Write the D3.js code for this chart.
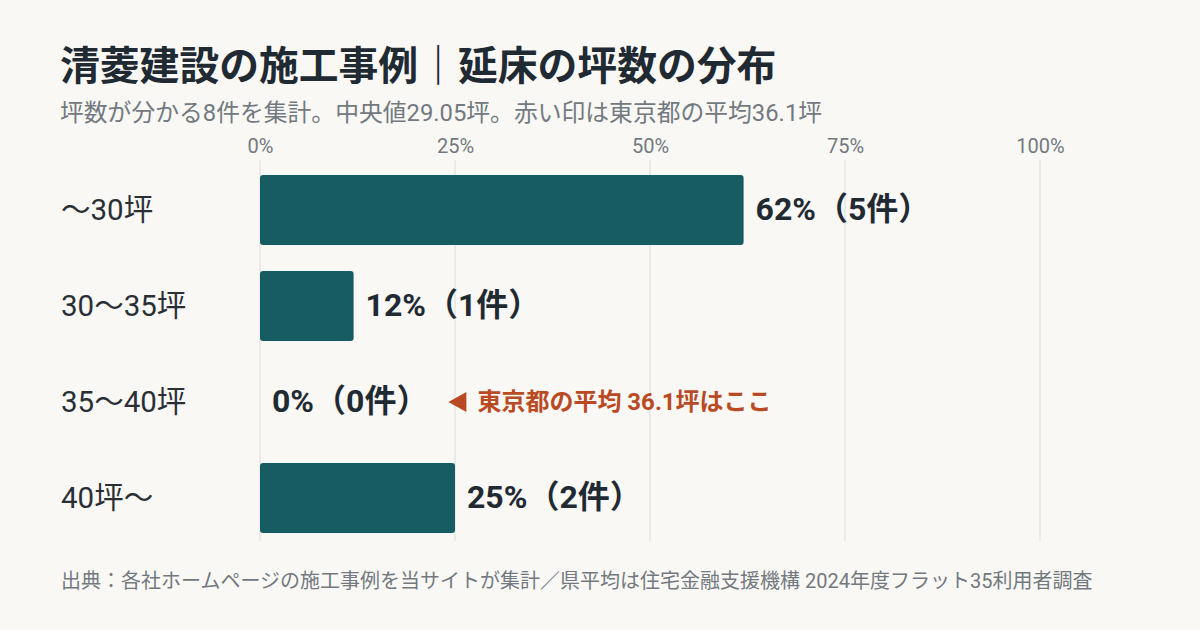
<!DOCTYPE html>
<html>
<head>
<meta charset="utf-8">
<script src="https://cdn.jsdelivr.net/npm/d3@7"></script>
<style>
  body { margin: 0; background: #f9f8f5; }
  svg { display: block; font-family: Roboto, "Noto Sans CJK JP", sans-serif; }
</style>
</head>
<body>
<svg id="chart"></svg>
<script>
const categories = ["～30坪", "30～35坪", "35～40坪", "40坪～"];
const shares = [62, 12, 0, 25];
const counts = [5, 1, 0, 2];
const ticks = [0, 25, 50, 75, 100];
const markerRow = "35～40坪";
const markerText = "東京都の平均 36.1坪はここ";

const W = 1200, H = 630;
const svg = d3.select("#chart").attr("width", W).attr("height", H);
svg.append("rect").attr("width", W).attr("height", H).attr("fill", "#f9f8f5");

svg.append("text")
  .attr("x", 60).attr("y", 80)
  .attr("font-size", 39.8).attr("font-weight", 700).attr("fill", "#1f2a33")
  .text("清菱建設の施工事例｜延床の坪数の分布");

svg.append("text")
  .attr("x", 60).attr("y", 121)
  .attr("font-size", 23.8).attr("fill", "#737980")
  .text("坪数が分かる8件を集計。中央値29.05坪。赤い印は東京都の平均36.1坪");

const x = d3.scaleLinear().domain([0, 100]).range([260, 1040]);
const y = d3.scaleBand().domain(categories).range([162, 546])
  .paddingInner(26 / 96).paddingOuter(13 / 96);

// grid
svg.append("g").selectAll("line")
  .data(ticks)
  .join("line")
  .attr("x1", d => x(d)).attr("x2", d => x(d))
  .attr("y1", 160).attr("y2", 541)
  .attr("stroke", "#dcdcd8").attr("stroke-width", 1);

// top axis
const xAxis = svg.append("g")
  .attr("transform", "translate(0,153)")
  .call(d3.axisTop(x).tickValues(ticks).tickFormat(d => d + "%").tickSize(0).tickPadding(0));
xAxis.select(".domain").remove();
xAxis.selectAll("text")
  .attr("dy", 0)
  .attr("font-size", 20).attr("fill", "#737980")
  .attr("font-family", "Roboto, 'Noto Sans CJK JP', sans-serif");

// category labels
svg.append("g").selectAll("text")
  .data(categories)
  .join("text")
  .attr("x", 61)
  .attr("y", d => y(d) + y.bandwidth() / 2)
  .attr("dy", "0.35em")
  .attr("font-size", 29.5).attr("fill", "#2a2f35")
  .text(d => d);

const rows = categories.map((c, i) => ({ cat: c, share: shares[i], count: counts[i] }));

// bars
svg.append("g").selectAll("rect")
  .data(rows.filter(d => d.share > 0))
  .join("rect")
  .attr("x", x(0))
  .attr("y", d => y(d.cat))
  .attr("width", d => x(d.share) - x(0))
  .attr("height", y.bandwidth())
  .attr("rx", 3)
  .attr("fill", "#175c63");

// value labels
const labels = svg.append("g").selectAll("text")
  .data(rows)
  .join("text")
  .attr("x", d => x(d.share) + 12)
  .attr("y", d => y(d.cat) + y.bandwidth() / 2)
  .attr("dy", "0.32em")
  .attr("font-size", 32).attr("font-weight", 700).attr("fill", "#1f2a33")
  .text(d => `${d.share}%（${d.count}件）`);

// marker annotation
const mark = labels.filter(d => d.cat === markerRow).node().getBBox();
const mx = mark.x + mark.width + 20;
const my = y(markerRow) + y.bandwidth() / 2;
svg.append("path")
  .attr("d", `M${mx},${my} L${mx + 18},${my - 10} L${mx + 18},${my + 10} Z`)
  .attr("fill", "#b94a24");
svg.append("text")
  .attr("x", mx + 29).attr("y", my)
  .attr("dy", "0.34em")
  .attr("font-size", 24).attr("font-weight", 700).attr("fill", "#b94a24")
  .text(markerText);

svg.append("text")
  .attr("x", 61).attr("y", 588)
  .attr("font-size", 20).attr("fill", "#737980")
  .text("出典：各社ホームページの施工事例を当サイトが集計／県平均は住宅金融支援機構 2024年度フラット35利用者調査");
</script>
</body>
</html>
